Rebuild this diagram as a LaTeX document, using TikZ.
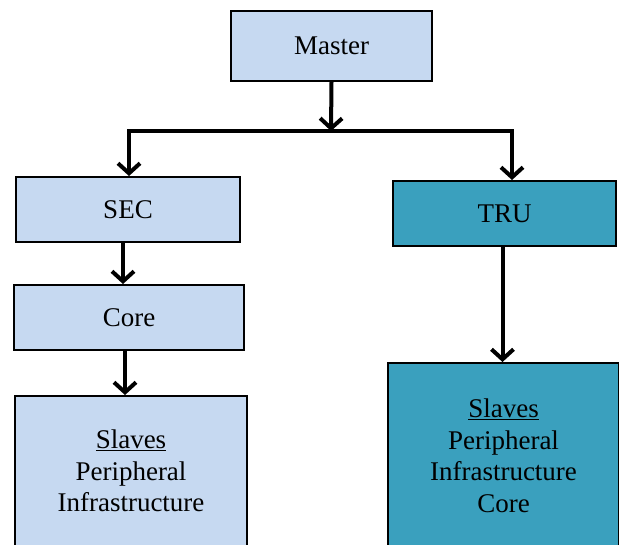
\documentclass[tikz,border=0pt]{standalone}
\usepackage{fontspec}
\setmainfont{Liberation Serif}
\usetikzlibrary{arrows.meta}
\definecolor{paleblue}{RGB}{198,217,241}
\definecolor{tealblue}{RGB}{58,160,190}
\tikzset{
  unit/.style={draw=black, line width=2pt, rectangle, inner sep=0pt, align=center,
    font=\fontsize{27}{31.5}\selectfont},
  link/.style={line width=4pt},
  arr/.style={link, -{Straight Barb[length=10pt, width=22pt, line width=4pt]}}
}

\begin{document}
\begin{tikzpicture}[x=1pt, y=-1pt]
			%%%%% START %%%%%
			\useasboundingbox (0, 0) rectangle (619, 544);
			\clip (0, 0) rectangle (619, 544);
			
			\node[unit, fill=paleblue, minimum width=201pt, minimum height=70pt] (master) at (331.5, 46) {Master};
			
			\node[unit, fill=paleblue, minimum width=224pt, minimum height=65pt] (sec) at (128, 209.5) {SEC};
			\node[unit, fill=paleblue, minimum width=230pt, minimum height=65pt] (core) at (129, 317.5) {Core};
			\node[unit, fill=paleblue, minimum width=232pt, minimum height=150pt] (slavesl) at (131, 471) {\underline{Slaves}\\Peripheral\\Infrastructure};
			
			\node[unit, fill=tealblue, minimum width=223pt, minimum height=65pt] (tru) at (504.5, 213.5) {TRU};
			\node[unit, fill=tealblue, minimum width=231pt, minimum height=186pt] (slavesr) at (503.5, 456) {\underline{Slaves}\\Peripheral\\Infrastructure\\Core};
			
			\coordinate (split) at (331, 131);
			\coordinate (bl) at (129, 131);
			\coordinate (br) at (512, 131);
			
			\draw[arr] (master.south) -- (split);
			\draw[link] ([xshift=-2pt]bl) -- ([xshift=2pt]br);
			\draw[arr] ([yshift=-2pt]bl) -- (bl |- sec.north);
			\draw[arr] ([yshift=-2pt]br) -- (br |- tru.north);
			
			\draw[arr] ([xshift=-5pt]sec.south) -- ([xshift=-6pt]core.north);
			\draw[arr] ([xshift=-4pt]core.south) -- ([xshift=-6pt]slavesl.north);
			\draw[arr] ([xshift=-2pt]tru.south) -- ([xshift=-1pt]slavesr.north);
			
			%%%%% END %%%%%
\end{tikzpicture}
\end{document}
